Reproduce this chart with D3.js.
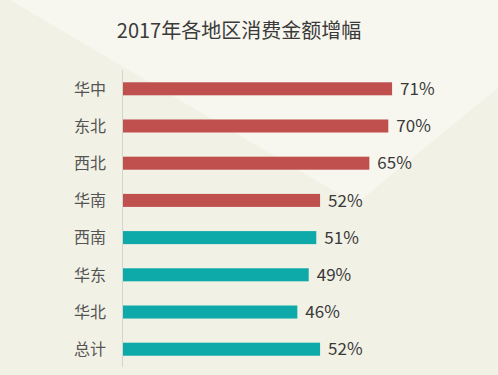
<!DOCTYPE html>
<html>
<head>
<meta charset="utf-8">
<script src="https://cdn.jsdelivr.net/npm/d3@7"></script>
<style>
  html, body { margin: 0; padding: 0; background: #f1f1e5; }
  svg { display: block; }
</style>
</head>
<body>
<div id="chart"></div>
<script>
var regions = ["华中", "东北", "西北", "华南", "西南", "华东", "华北", "总计"];
var growth = [71, 70, 65, 52, 51, 49, 46, 52];
var groups = ["red", "red", "red", "red", "teal", "teal", "teal", "teal"];

var width = 498, height = 375;
var fontCJK = "'Noto Sans CJK SC', 'Noto Sans', sans-serif";

var svg = d3.select("#chart").append("svg")
    .attr("width", width)
    .attr("height", height);

// background
svg.append("rect")
    .attr("width", width).attr("height", height)
    .attr("fill", "#f1f1e5");
svg.append("path")
    .attr("d", "M10,0 L498,0 L498,88 L356,204 Z")
    .attr("fill", "#f8f7ef");

var x = d3.scaleLinear()
    .domain([0, 100])
    .range([123, 502]);

var y = d3.scaleBand()
    .domain(regions)
    .range([70, 368])
    .paddingInner(0.65)
    .paddingOuter(0.33);

var colors = { red: "#c0504e", teal: "#0eaaa9" };

svg.append("text")
    .attr("x", 239)
    .attr("y", 38)
    .attr("text-anchor", "middle")
    .attr("font-family", fontCJK)
    .attr("font-size", 20)
    .attr("fill", "#3a3a3a")
    .text("2017年各地区消费金额增幅");

var rows = svg.append("g");

rows.selectAll("rect.bar")
    .data(growth).enter()
    .append("rect")
    .attr("class", "bar")
    .attr("x", x(0))
    .attr("y", function(d, i) { return y(regions[i]); })
    .attr("width", function(d) { return x(d) - x(0); })
    .attr("height", y.bandwidth())
    .attr("fill", function(d, i) { return colors[groups[i]]; });

rows.selectAll("text.cat")
    .data(regions).enter()
    .append("text")
    .attr("class", "cat")
    .attr("x", 106)
    .attr("y", function(d) { return y(d) + y.bandwidth() / 2; })
    .attr("dy", "0.36em")
    .attr("text-anchor", "end")
    .attr("font-family", fontCJK)
    .attr("font-size", 16)
    .attr("fill", "#555")
    .text(function(d) { return d; });

rows.selectAll("text.val")
    .data(growth).enter()
    .append("text")
    .attr("class", "val")
    .attr("x", function(d) { return x(d) + 8; })
    .attr("y", function(d, i) { return y(regions[i]) + y.bandwidth() / 2; })
    .attr("dy", "0.36em")
    .attr("font-family", fontCJK)
    .attr("font-size", 17)
    .attr("fill", "#3a3a3a")
    .text(function(d) { return d + "%"; });

// axis line
svg.append("line")
    .attr("x1", 122.5).attr("x2", 122.5)
    .attr("y1", y.range()[0]).attr("y2", y.range()[1] - 1)
    .attr("stroke", "#d4d4d0")
    .attr("stroke-width", 1);
</script>
</body>
</html>
